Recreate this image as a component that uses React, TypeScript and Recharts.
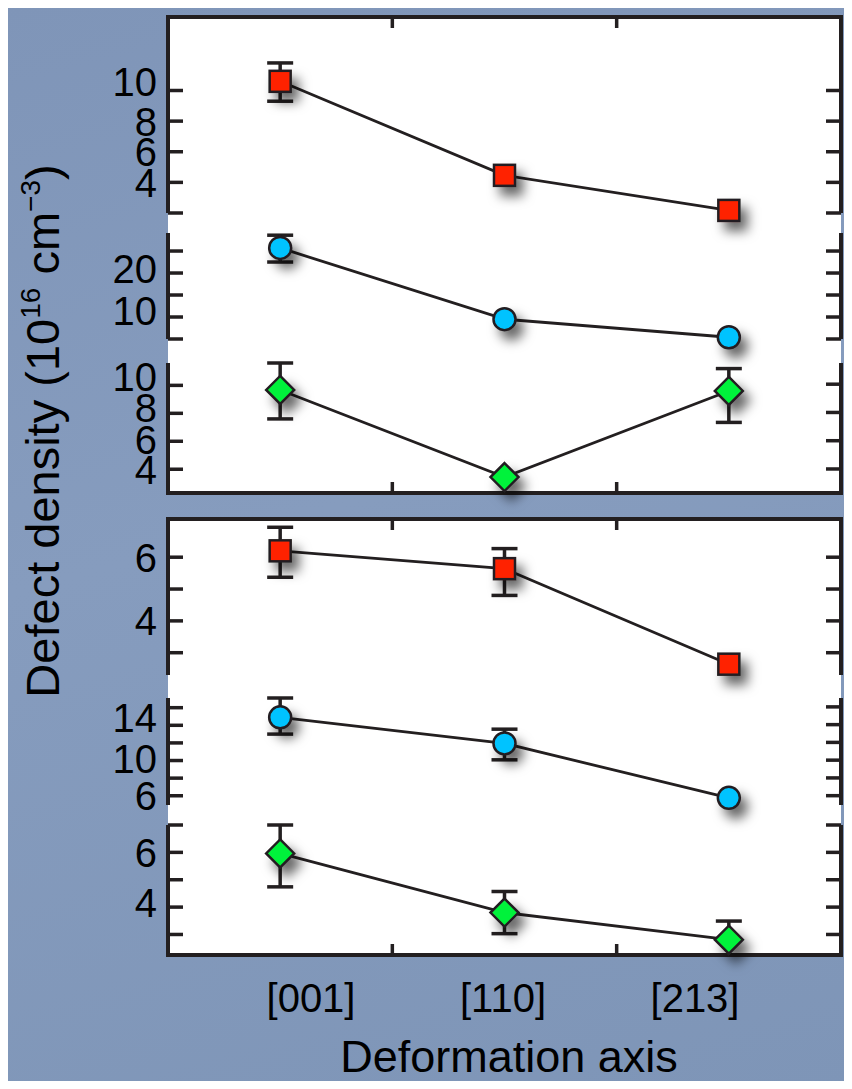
import React from 'react';
import { LineChart, Line, XAxis, YAxis, ErrorBar } from 'recharts';

// categories along the deformation axis
const CATEGORIES = ['[001]', '[110]', '[213]'];
const X_POS = [1, 2, 3];

// upper panel (three stacked sub-plots)
const TOP_SQUARE = [10.6, 4.46, 2.17];
const TOP_SQUARE_LO = [9.3, null, null];
const TOP_SQUARE_HI = [11.8, null, null];

const TOP_CIRCLE = [25.7, 9.5, 5.4];
const TOP_CIRCLE_LO = [22.5, null, null];
const TOP_CIRCLE_HI = [28.6, null, null];

const TOP_DIAMOND = [9.67, 3.44, 9.6];
const TOP_DIAMOND_LO = [7.6, null, 7.35];
const TOP_DIAMOND_HI = [11.6, null, 11.2];

// lower panel
const BOT_SQUARE = [6.2, 5.64, 2.64];
const BOT_SQUARE_LO = [5.37, 4.8, null];
const BOT_SQUARE_HI = [6.94, 6.27, null];

const BOT_CIRCLE = [14.9, 11.94, 5.76];
const BOT_CIRCLE_LO = [13.0, 10.08, null];
const BOT_CIRCLE_HI = [17.1, 13.56, null];

const BOT_DIAMOND = [5.96, 3.8, 2.81];
const BOT_DIAMOND_LO = [4.74, 3.03, 2.81];
const BOT_DIAMOND_HI = [7.0, 4.57, 3.49];

// y ticks per sub-plot
const TICKS_A1 = [2, 4, 6, 8, 10];
const LABELS_A1 = [4, 6, 8, 10];
const TICKS_A2 = [5, 10, 15, 20, 25];
const LABELS_A2 = [10, 20];
const TICKS_A3 = [4, 6, 8, 10];
const LABELS_A3 = [4, 6, 8, 10];
const TICKS_B1 = [3, 4, 5, 6];
const LABELS_B1 = [4, 6];
const TICKS_B2 = [6, 8, 10, 12, 14, 16];
const LABELS_B2 = [6, 10, 14];
const TICKS_B3 = [3, 4, 5, 6, 7];
const LABELS_B3 = [4, 6];

const X_BORDER_TICKS = [1.5, 2.5];

const INK = '#231f20';
const FONT = '"Liberation Sans", Arial, Helvetica, sans-serif';
const W = 852;
const PLOT_L = 168;
const PLOT_R = 841;
const PAD = 40;
const CAT_ROOM = 80;
const AXIS_W = 60;

type Shape = 'square' | 'circle' | 'diamond';

function Marker({ cx, cy, shape }: { cx: number; cy: number; shape: Shape }) {
  if (cx == null || cy == null) return null;
  const common = { stroke: INK, strokeWidth: 2.5, filter: 'url(#mk-shadow)' };
  if (shape === 'square') {
    return <rect x={cx - 10.5} y={cy - 10.5} width={21} height={21} fill="#ff2400" {...common} />;
  }
  if (shape === 'circle') {
    return <circle cx={cx} cy={cy} r={11} fill="#00c3ff" {...common} />;
  }
  const d = 14;
  return (
    <path
      d={`M${cx},${cy - d}L${cx + d},${cy}L${cx},${cy + d}L${cx - d},${cy}Z`}
      fill="#04f23a"
      {...common}
    />
  );
}

function YTick(props: any) {
  const { x, y, payload, side, labels, shift } = props;
  const dir = side === 'left' ? 1 : -1;
  const show = side === 'left' && labels.includes(payload.value);
  const dy = (shift && shift[payload.value]) || 0;
  return (
    <g>
      <line x1={x} x2={x + dir * 15} y1={y} y2={y} stroke={INK} strokeWidth={3.5} />
      {show && (
        <text x={x - 11} y={y + dy} dy="0.36em" textAnchor="end" fontSize={40} fontFamily={FONT} fill="#000">
          {payload.value}
        </text>
      )}
    </g>
  );
}

function XTick(props: any) {
  const { x, y, dir } = props;
  return <line x1={x} x2={x} y1={y} y2={y + dir * 11} stroke={INK} strokeWidth={3.5} />;
}

function CatTick(props: any) {
  const { x, y, payload } = props;
  return (
    <text x={x} y={y + 56} textAnchor="middle" fontSize={40} fontFamily={FONT} fill="#000">
      {CATEGORIES[payload.value - 1]}
    </text>
  );
}

type SubProps = {
  top: number;
  bottom: number;
  domain: [number, number];
  ticks: number[];
  labels: number[];
  shift?: Record<number, number>;
  values: number[];
  lo: (number | null)[];
  hi: (number | null)[];
  shape: Shape;
  border?: 'top' | 'bottom';
  categories?: boolean;
};

function SubPlot({ top, bottom, domain, ticks, labels, shift, values, lo, hi, shape, border, categories }: SubProps) {
  const data = X_POS.map((x, i) => ({
    x,
    v: values[i],
    err: lo[i] == null || hi[i] == null ? null : [values[i] - (lo[i] as number), (hi[i] as number) - values[i]],
  }));
  const extra = categories ? CAT_ROOM : 0;
  const h = bottom - top + PAD * 2 + extra;
  // visible x axes take 1px each, so shrink the margin to keep the plot band exact
  const mTop = border === 'top' ? PAD - 1 : PAD;
  const mBottom = PAD + extra - (border === 'bottom' ? 1 : 0) - (categories ? 1 : 0);
  return (
    <div style={{ position: 'absolute', left: 0, top: top - PAD }}>
      <LineChart
        width={W}
        height={h}
        data={data}
        margin={{ top: mTop, bottom: mBottom, left: PLOT_L - AXIS_W, right: W - PLOT_R - 10 }}
      >
        <XAxis
          dataKey="x"
          type="number"
          domain={[0.5, 3.5]}
          ticks={X_BORDER_TICKS}
          interval={0}
          orientation={border === 'top' ? 'top' : 'bottom'}
          hide={!border}
          height={1}
          axisLine={{ stroke: INK, strokeWidth: 4, strokeLinecap: 'square' }}
          tickLine={false}
          tickSize={0}
          tickMargin={0}
          tick={<XTick dir={border === 'top' ? 1 : -1} />}
        />
        {categories && (
          <XAxis
            xAxisId="lbl"
            dataKey="x"
            type="number"
            domain={[0.5, 3.5]}
            allowDataOverflow
            ticks={X_POS}
            interval={0}
            padding={{ left: 47, right: 50 }}
            orientation="bottom"
            height={1}
            axisLine={false}
            tickLine={false}
            tickSize={0}
            tickMargin={0}
            tick={<CatTick />}
          />
        )}
        <YAxis
          yAxisId="l"
          type="number"
          domain={domain}
          ticks={ticks}
          interval={0}
          width={AXIS_W}
          axisLine={{ stroke: INK, strokeWidth: 4 }}
          tickLine={false}
          tickSize={0}
          tickMargin={0}
          tick={<YTick side="left" labels={labels} shift={shift} />}
        />
        <YAxis
          yAxisId="r"
          orientation="right"
          type="number"
          domain={domain}
          allowDataOverflow
          ticks={ticks}
          interval={0}
          width={10}
          axisLine={{ stroke: INK, strokeWidth: 4 }}
          tickLine={false}
          tickSize={0}
          tickMargin={0}
          tick={<YTick side="right" labels={labels} />}
        />
        <Line
          yAxisId="l"
          dataKey="v"
          stroke={INK}
          strokeWidth={2.8}
          dot={false}
          activeDot={false}
          isAnimationActive={false}
        >
          <ErrorBar dataKey="err" direction="y" width={13} strokeWidth={3.5} stroke={INK} isAnimationActive={false} />
        </Line>
        <Line
          yAxisId="l"
          dataKey="v"
          stroke="none"
          activeDot={false}
          isAnimationActive={false}
          dot={(p: any) => <Marker key={`m-${p.index}`} cx={p.cx} cy={p.cy} shape={shape} />}
        />
      </LineChart>
    </div>
  );
}

export default function App() {
  return (
    <div
      style={{
        position: 'relative',
        margin: -8,
        width: W,
        height: 1089,
        background: '#9c9c9c',
        overflow: 'hidden',
        fontFamily: FONT,
      }}
    >
      <div
        style={{
          position: 'absolute',
          left: 8,
          top: 4,
          right: 0,
          bottom: 0,
          background: 'linear-gradient(165deg, #7f95b8 0%, #869cbe 45%, #7e95b7 100%)',
        }}
      />
      <div style={{ position: 'absolute', left: PLOT_L, top: 17, width: PLOT_R - PLOT_L, height: 476, background: '#fff' }} />
      <div style={{ position: 'absolute', left: PLOT_L, top: 519, width: PLOT_R - PLOT_L, height: 436, background: '#fff' }} />

      <svg width={W} height={1089} style={{ position: 'absolute', left: 0, top: 0 }}>
        <defs>
          <filter id="mk-shadow" x="-150%" y="-150%" width="400%" height="400%">
            <feDropShadow dx={7} dy={9} stdDeviation={6} floodColor="#000" floodOpacity={0.6} />
          </filter>
        </defs>
        <text
          transform="translate(42 431) rotate(-90)"
          textAnchor="middle"
          dy="0.36em"
          fontSize={47}
          fontFamily={FONT}
          fill="#000"
        >
          Defect density (10
          <tspan dy={-19} fontSize={28}>16</tspan>
          <tspan dy={19} fontSize={47}> cm</tspan>
          <tspan dy={-19} fontSize={28}>−3</tspan>
          <tspan dy={19} fontSize={47}>)</tspan>
        </text>
        <text x={509} y={1072} textAnchor="middle" fontSize={45} fontFamily={FONT} fill="#000">
          Deformation axis
        </text>
      </svg>

      <SubPlot top={17} bottom={213} domain={[2, 14.8]} ticks={TICKS_A1} labels={LABELS_A1} shift={{ 10: -9 }}
        values={TOP_SQUARE} lo={TOP_SQUARE_LO} hi={TOP_SQUARE_HI} shape="square" border="top" />
      <SubPlot top={233} bottom={339} domain={[5, 29.1]} ticks={TICKS_A2} labels={LABELS_A2} shift={{ 20: -4, 10: -6 }}
        values={TOP_CIRCLE} lo={TOP_CIRCLE_LO} hi={TOP_CIRCLE_HI} shape="circle" />
      <SubPlot top={363} bottom={493} domain={[2.3, 11.5]} ticks={TICKS_A3} labels={LABELS_A3} shift={{ 10: -9, 8: -6, 6: -2 }}
        values={TOP_DIAMOND} lo={TOP_DIAMOND_LO} hi={TOP_DIAMOND_HI} shape="diamond" border="bottom" />

      <SubPlot top={519} bottom={675} domain={[2.3, 7.2]} ticks={TICKS_B1} labels={LABELS_B1}
        values={BOT_SQUARE} lo={BOT_SQUARE_LO} hi={BOT_SQUARE_HI} shape="square" border="top" />
      <SubPlot top={698} bottom={805} domain={[4.95, 17]} ticks={TICKS_B2} labels={LABELS_B2} shift={{ 14: -8, 10: -2 }}
        values={BOT_CIRCLE} lo={BOT_CIRCLE_LO} hi={BOT_CIRCLE_HI} shape="circle" />
      <SubPlot top={825} bottom={955} domain={[2.25, 7]} ticks={TICKS_B3} labels={LABELS_B3} shift={{ 4: -5 }}
        values={BOT_DIAMOND} lo={BOT_DIAMOND_LO} hi={BOT_DIAMOND_HI} shape="diamond" border="bottom" categories />
    </div>
  );
}
